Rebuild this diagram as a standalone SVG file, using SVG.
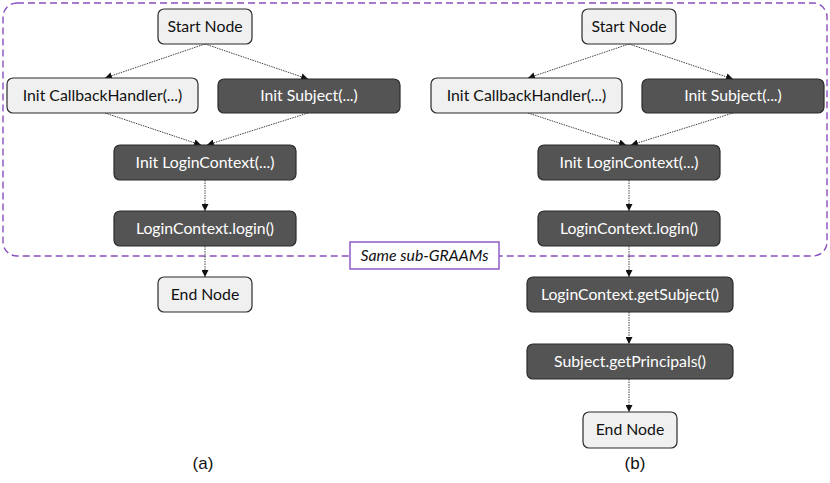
<svg xmlns="http://www.w3.org/2000/svg" width="830" height="483" viewBox="0 0 830 483">
<style>
.light rect{fill:#f0f0f0;stroke:#2b2b2b;stroke-width:1.2}
.dark rect{fill:#545454;stroke:#2b2b2b;stroke-width:1.2}
text{font-family:Lato,"Open Sans","Liberation Sans",sans-serif;font-size:15.8px;text-anchor:middle}
.light text{fill:#111}
.dark text{fill:#fff}
.edge{stroke:#444;stroke-width:1;stroke-dasharray:1.5,1;fill:none;marker-end:url(#ah)}
.cap{font-family:"Liberation Sans",Arial,sans-serif;font-size:17px;fill:#111}
</style>
<defs>
<marker id="ah" viewBox="0 0 10 10" refX="10" refY="5" markerWidth="7" markerHeight="7" markerUnits="userSpaceOnUse" orient="auto">
<path d="M0,0 L10,5 L0,10 z" fill="#111"/>
</marker>
</defs>
<rect x="3" y="3" width="824" height="253" rx="14" fill="none" stroke="#8a4fc0" stroke-width="1.4" stroke-dasharray="7,4"/>
<g id="connectors">
<line class="edge" x1="205" y1="44" x2="105" y2="78"/>
<line class="edge" x1="205" y1="44" x2="308" y2="79"/>
<line class="edge" x1="105" y1="113" x2="201" y2="145"/>
<line class="edge" x1="308" y1="113" x2="207" y2="145"/>
<line class="edge" x1="205" y1="180" x2="205" y2="211"/>
<line class="edge" x1="205" y1="246" x2="205" y2="277"/>
<line class="edge" x1="629" y1="44" x2="528" y2="78"/>
<line class="edge" x1="629" y1="44" x2="733" y2="79"/>
<line class="edge" x1="528" y1="113" x2="626" y2="145"/>
<line class="edge" x1="733" y1="113" x2="631" y2="145"/>
<line class="edge" x1="629" y1="180" x2="629" y2="211"/>
<line class="edge" x1="629" y1="246" x2="629" y2="277"/>
<line class="edge" x1="629" y1="312" x2="629" y2="344"/>
<line class="edge" x1="629" y1="379" x2="629" y2="412"/>
</g>
<g id="label-same">
<rect x="350" y="242" width="149" height="27" fill="#fff" stroke="#8a4fc0" stroke-width="1.4"/>
<text x="424.5" y="261" style="font-style:italic;fill:#111">Same sub-GRAAMs</text>
</g>
<g id="a-start" class="light"><rect x="158" y="9" width="94" height="35" rx="6"/><text x="205" y="32">Start Node</text></g>
<g id="a-cbh" class="light"><rect x="7" y="78" width="191" height="35" rx="6"/><text x="102.5" y="101">Init CallbackHandler(...)</text></g>
<g id="a-subj" class="dark"><rect x="218" y="79" width="182" height="34" rx="6"/><text x="309" y="101">Init Subject(...)</text></g>
<g id="a-lc" class="dark"><rect x="114" y="145" width="182" height="35" rx="6"/><text x="205" y="168">Init LoginContext(...)</text></g>
<g id="a-login" class="dark"><rect x="114" y="211" width="182" height="35" rx="6"/><text x="205" y="234">LoginContext.login()</text></g>
<g id="a-end" class="light"><rect x="158" y="277" width="94" height="35" rx="6"/><text x="205" y="300">End Node</text></g>
<g id="b-start" class="light"><rect x="582" y="9" width="94" height="35" rx="6"/><text x="629" y="32">Start Node</text></g>
<g id="b-cbh" class="light"><rect x="431" y="78" width="191" height="35" rx="6"/><text x="526.5" y="101">Init CallbackHandler(...)</text></g>
<g id="b-subj" class="dark"><rect x="642" y="79" width="182" height="34" rx="6"/><text x="733" y="101">Init Subject(...)</text></g>
<g id="b-lc" class="dark"><rect x="538" y="145" width="182" height="35" rx="6"/><text x="629" y="168">Init LoginContext(...)</text></g>
<g id="b-login" class="dark"><rect x="538" y="211" width="182" height="35" rx="6"/><text x="629" y="234">LoginContext.login()</text></g>
<g id="b-getsubj" class="dark"><rect x="527" y="277" width="206" height="35" rx="6"/><text x="630" y="300">LoginContext.getSubject()</text></g>
<g id="b-getprin" class="dark"><rect x="527" y="344" width="206" height="35" rx="6"/><text x="630" y="367">Subject.getPrincipals()</text></g>
<g id="b-end" class="light"><rect x="583" y="412" width="94" height="36" rx="6"/><text x="630" y="435">End Node</text></g>
<text class="cap" x="203" y="469">(a)</text>
<text class="cap" x="635" y="469">(b)</text>
</svg>
